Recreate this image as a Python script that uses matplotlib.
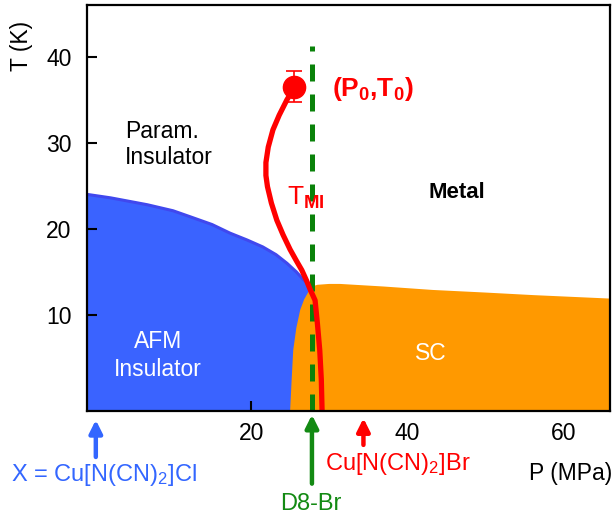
import matplotlib.pyplot as plt
import numpy as np

plt.rcParams['font.family'] = ['Liberation Sans', 'DejaVu Sans']
plt.rcParams['mathtext.fontset'] = 'custom'
plt.rcParams['mathtext.rm'] = 'Liberation Sans'
plt.rcParams['mathtext.it'] = 'Liberation Sans:italic'
plt.rcParams['mathtext.bf'] = 'Liberation Sans:bold'

# AFM insulator / paramagnetic insulator boundary (P in MPa, T in K)
afm_p = [-1.0, 2.0, 6.7, 10.0, 12.2, 15.0, 17.3, 19.5, 21.5, 23.2, 24.6, 25.8, 26.7, 27.8]
afm_t = [24.0, 23.6, 22.8, 22.1, 21.4, 20.5, 19.5, 18.7, 17.9, 17.0, 16.0, 15.0, 14.1, 13.3]

# superconducting dome edge, left side from the bottom then the top
sc_p = [25.0, 25.2, 25.4, 25.8, 26.3, 26.8, 27.3, 27.8, 28.5, 30.0, 31.4, 37.0, 43.3, 50.0, 56.2, 66.0]
sc_t = [-1.2, 2.5, 5.9, 8.5, 10.6, 11.8, 12.6, 13.3, 13.5, 13.6, 13.6, 13.3, 12.9, 12.6, 12.3, 11.9]

# metal-insulator crossover line T_MI
mi_p = [25.6, 24.6, 23.6, 22.8, 22.2, 21.9, 21.9, 22.1, 22.6, 23.3, 24.1, 25.0, 25.8, 26.5,
        27.1, 27.6, 28.2, 28.5, 28.8, 29.0, 29.1]
mi_t = [36.5, 35.0, 33.2, 31.5, 29.5, 27.7, 26.2, 24.9, 23.0, 21.0, 19.3, 17.6, 16.3, 15.2,
        14.0, 12.9, 11.7, 9.0, 5.9, 2.5, -1.2]

# critical end point with error bar
p0, t0, t0_err = 25.5, 36.5, 1.8

# sample pressures
cl_p = 0.1
d8_p = 27.8
br_p = 34.4
d8_top = 41.2

xmin, xmax = -1.03, 66.0
ymin, ymax = -1.16, 46.0

blue = '#3A63FF'
orange = '#FF9900'
red = '#FF0000'
green = '#0A820A'

fig = plt.figure(figsize=(6.13, 5.18), dpi=100)
ax = fig.add_axes([87 / 613, 1 - 411 / 518, 523 / 613, 406 / 518])

# AFM region
ax.fill(afm_p + [afm_p[-1], afm_p[0]], afm_t + [ymin, ymin], color=blue, lw=0, zorder=1)
ax.plot(afm_p, afm_t, color='#4048EE', lw=2.2, zorder=1.5)

# SC region
ax.fill(sc_p + [sc_p[-1]], sc_t + [ymin], color=orange, lw=0, zorder=2)

# T_MI line and end point
ax.plot(mi_p, mi_t, color=red, lw=3.8, solid_capstyle='butt', zorder=4)
ax.errorbar([p0], [t0], yerr=[t0_err], fmt='o', ms=16, color=red, ecolor=red,
            elinewidth=1.2, capsize=6, capthick=1.2, zorder=5)

# D8-Br pressure
ax.plot([d8_p, d8_p], [ymin, d8_top], color=green, lw=3.6, dashes=(3.4, 2.6), zorder=3)

ax.set_xlim(xmin, xmax)
ax.set_ylim(ymin, ymax)

for s in ax.spines.values():
    s.set_linewidth(1.6)
    s.set_zorder(6)

ax.set_xticks([20, 40, 60])
ax.set_yticks([10, 20, 30, 40])
ax.tick_params(direction='in', length=7, width=1.5, labelsize=16.5)
ax.tick_params(axis='x', pad=8)
ax.tick_params(axis='y', pad=11)
for tk in ax.xaxis.get_major_ticks():
    if tk.get_loc() == 20:
        tk.tick1line.set_visible(False)
for tk in ax.yaxis.get_major_ticks():
    if tk.get_loc() >= 30:
        tk.tick1line.set_visible(False)
ax.tick_params(top=False, right=False)

ax.set_xlabel('P (MPa)', fontsize=16.5)
ax.xaxis.set_label_coords(0.924, -0.126)
ax.set_ylabel('T (K)', fontsize=16.5)
ax.yaxis.set_label_coords(-0.103, 0.899)

# region labels
ax.text(3.8, 29.8, 'Param.\nInsulator', fontsize=16.5, ha='left', va='center',
        linespacing=1.15, zorder=7)
ax.text(8.1, 5.3, 'AFM\nInsulator', fontsize=16.5, ha='center', va='center',
        color='white', linespacing=1.25, zorder=7)
ax.text(46.4, 24.2, 'Metal', fontsize=16, fontweight='bold', ha='center', va='center', zorder=7)
ax.text(43.0, 5.5, 'SC', fontsize=16.5, ha='center', va='center', color='white', zorder=7)
ax.text(24.6, 23.6, r'T$_{\mathbf{MI}}$', fontsize=19, ha='left', va='center', color=red, zorder=7)
ax.text(30.4, 36.2, r'$\mathbf{(P_0{,}T_0)}$', fontsize=19, ha='left', va='center',
        color=red, zorder=7)

# sample arrows below the axis
arrow_kw = dict(arrowstyle='-|>', lw=3.2, mutation_scale=19, shrinkA=0, shrinkB=0)
ax.annotate('', xy=(cl_p, -2.2), xytext=(cl_p, -6.5), annotation_clip=False,
            arrowprops=dict(color='#3366FF', **arrow_kw))
ax.annotate('', xy=(d8_p, -1.6), xytext=(d8_p, -9.6), annotation_clip=False,
            arrowprops=dict(color='#138A13', **arrow_kw))
ax.annotate('', xy=(br_p, -2.0), xytext=(br_p, -5.1), annotation_clip=False,
            arrowprops=dict(color=red, **arrow_kw))

ax.text(1.15, -8.6, r'X = Cu[N(CN)$_2$]Cl', fontsize=17, color='#3366FF',
        ha='center', va='center', clip_on=False)
ax.text(38.8, -7.3, r'Cu[N(CN)$_2$]Br', fontsize=17, color=red,
        ha='center', va='center', clip_on=False)
ax.text(27.6, -12.0, 'D8-Br', fontsize=17, color='#138A13',
        ha='center', va='center', clip_on=False)

fig.savefig('out.png', dpi=100)
